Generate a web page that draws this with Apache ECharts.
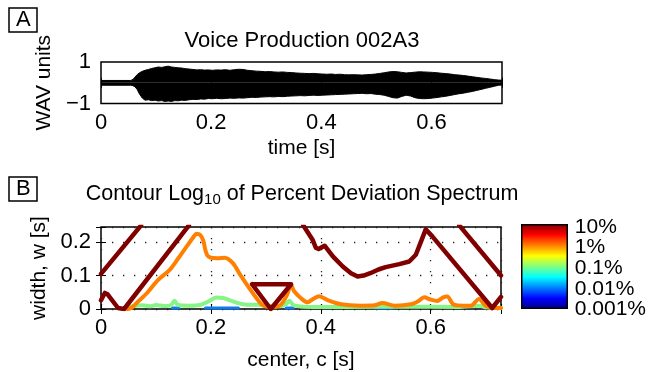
<!DOCTYPE html>
<html>
<head>
<meta charset="utf-8">
<script src="https://cdn.jsdelivr.net/npm/echarts@6/dist/echarts.min.js"></script>
<style>
  html, body { margin: 0; padding: 0; background: #fff; }
  #main { width: 649px; height: 372px; }
</style>
</head>
<body>
<div id="main"></div>
<script>
"use strict";

// --- panel A: waveform envelope (time [s], upper / lower WAV units)
const waveT = [0, 0.054, 0.058, 0.062, 0.066, 0.07, 0.075, 0.08, 0.086, 0.092, 0.098, 0.104, 0.11, 0.116, 0.122,
  0.128, 0.134, 0.14, 0.146, 0.153, 0.16, 0.167, 0.174, 0.181, 0.188, 0.195, 0.202, 0.21, 0.218, 0.226, 0.234,
  0.242, 0.25, 0.258, 0.266, 0.274, 0.282, 0.29, 0.298, 0.306, 0.314, 0.322, 0.33, 0.338, 0.346, 0.354, 0.362,
  0.37, 0.378, 0.386, 0.394, 0.402, 0.41, 0.418, 0.426, 0.434, 0.442, 0.45, 0.458, 0.466, 0.474, 0.482, 0.49,
  0.498, 0.506, 0.514, 0.522, 0.53, 0.538, 0.546, 0.554, 0.562, 0.57, 0.578, 0.586, 0.594, 0.602, 0.61, 0.618,
  0.626, 0.634, 0.642, 0.65, 0.658, 0.666, 0.674, 0.682, 0.69, 0.698, 0.706, 0.714, 0.722, 0.728];
const waveUpper = [0.11, 0.11, 0.16, 0.28, 0.4, 0.48, 0.55, 0.6, 0.64, 0.69, 0.72, 0.76, 0.74, 0.77, 0.8,
  0.76, 0.74, 0.72, 0.71, 0.68, 0.66, 0.64, 0.62, 0.63, 0.61, 0.62, 0.6, 0.62, 0.61, 0.63, 0.6,
  0.63, 0.65, 0.64, 0.6, 0.58, 0.56, 0.55, 0.53, 0.54, 0.52, 0.51, 0.52, 0.5, 0.49, 0.47, 0.46,
  0.45, 0.44, 0.45, 0.43, 0.42, 0.41, 0.42, 0.4, 0.41, 0.39, 0.38, 0.39, 0.38, 0.37, 0.39, 0.4,
  0.42, 0.45, 0.48, 0.52, 0.54, 0.53, 0.5, 0.47, 0.49, 0.51, 0.53, 0.52, 0.51, 0.5, 0.48, 0.46,
  0.44, 0.42, 0.39, 0.37, 0.35, 0.32, 0.29, 0.26, 0.23, 0.21, 0.18, 0.15, 0.13, 0.12];
const waveLower = [-0.12, -0.12, -0.14, -0.2, -0.34, -0.55, -0.74, -0.84, -0.82, -0.86, -0.84, -0.88, -0.86, -0.9, -0.88,
  -0.9, -0.86, -0.87, -0.84, -0.85, -0.82, -0.8, -0.81, -0.78, -0.79, -0.76, -0.77, -0.75, -0.77, -0.76, -0.74,
  -0.75, -0.73, -0.74, -0.72, -0.7, -0.71, -0.69, -0.68, -0.67, -0.68, -0.66, -0.67, -0.65, -0.64, -0.63, -0.62,
  -0.63, -0.61, -0.6, -0.61, -0.6, -0.59, -0.58, -0.57, -0.56, -0.55, -0.54, -0.53, -0.52, -0.51, -0.53, -0.52,
  -0.55, -0.57, -0.6, -0.66, -0.72, -0.74, -0.66, -0.6, -0.64, -0.72, -0.76, -0.77, -0.76, -0.74, -0.71, -0.68,
  -0.65, -0.61, -0.57, -0.53, -0.5, -0.46, -0.42, -0.37, -0.32, -0.27, -0.22, -0.17, -0.12, -0.11];

// --- panel B: contour lines, [center c, width w]
const red10a = [[0, 0.105], [0.073, 0.25]];
const red10b = [[0, 0.026], [0.007, 0.048], [0.012, 0.044], [0.031, 0.003], [0.042, 0.0], [0.16, 0.25]];
const red10tri = [[0.275, 0.074], [0.346, 0.074], [0.309, 0.0], [0.275, 0.074]];
const red10c = [[0.368, 0.25], [0.385, 0.207], [0.391, 0.183], [0.396, 0.179], [0.407, 0.189], [0.422, 0.157],
  [0.44, 0.127], [0.455, 0.107], [0.467, 0.097], [0.478, 0.1], [0.49, 0.107], [0.505, 0.118], [0.518, 0.125],
  [0.543, 0.134], [0.561, 0.142], [0.573, 0.162], [0.582, 0.2], [0.591, 0.238], [0.603, 0.217],
  [0.712, 0.003], [0.728, 0.036]];
const red10d = [[0.652, 0.25], [0.728, 0.1]];
const orange1 = [[0.048, 0.0], [0.055, 0.003], [0.068, 0.023], [0.085, 0.05], [0.104, 0.087], [0.125, 0.117],
  [0.14, 0.15], [0.156, 0.187], [0.167, 0.212], [0.174, 0.225], [0.18, 0.222], [0.186, 0.205], [0.192, 0.165],
  [0.2, 0.153], [0.212, 0.152], [0.225, 0.153], [0.24, 0.137], [0.255, 0.098], [0.29, 0.018], [0.303, 0.007],
  [0.318, 0.007], [0.328, 0.014], [0.338, 0.04], [0.346, 0.07], [0.352, 0.052], [0.364, 0.032], [0.376, 0.02],
  [0.386, 0.03], [0.397, 0.038], [0.413, 0.026], [0.437, 0.014], [0.473, 0.01], [0.498, 0.011], [0.512, 0.018],
  [0.535, 0.01], [0.564, 0.014], [0.578, 0.024], [0.588, 0.035], [0.6, 0.028], [0.612, 0.024], [0.622, 0.034],
  [0.63, 0.037], [0.642, 0.013], [0.66, 0.01], [0.673, 0.01], [0.688, 0.03], [0.7, 0.01], [0.715, 0.004],
  [0.728, 0.003]];
const green01 = [[0.045, 0.004], [0.06, 0.009], [0.075, 0.011], [0.09, 0.008], [0.1, 0.012], [0.115, 0.009],
  [0.127, 0.011], [0.134, 0.025], [0.14, 0.012], [0.16, 0.01], [0.18, 0.012], [0.195, 0.022], [0.21, 0.034],
  [0.222, 0.033], [0.235, 0.026], [0.249, 0.018], [0.265, 0.013], [0.285, 0.013], [0.3, 0.009], [0.325, 0.008],
  [0.337, 0.015], [0.343, 0.025], [0.35, 0.012], [0.37, 0.007], [0.45, 0.006], [0.55, 0.007], [0.65, 0.006],
  [0.689, 0.01], [0.7, 0.005], [0.728, 0.004]];
const blue001a = [[0.13, 0.003], [0.142, 0.003]];
const blue001b = [[0.19, 0.003], [0.25, 0.003]];
const blue001c = [[0.337, 0.003], [0.35, 0.003]];
const blue001d = [[0.5, 0.003], [0.53, 0.003]];

// colour bar tick labels (bottom to top)
const cbLabels = ['0.001%', '0.01%', '0.1%', '1%', '10%'];

const FONT = '"Liberation Sans", Arial, Helvetica, sans-serif';
const tMax = 0.728;
const wMax = 0.245;

function stepLabel(step) {
  return function (v) {
    const k = v / step;
    if (Math.abs(k - Math.round(k)) > 1e-6) return '';
    const r = +(Math.round(k) * step).toFixed(3);
    return r < 0 ? '\u2212' + Math.abs(r) : String(r);
  };
}

function axis(extra) {
  return Object.assign({
    type: 'value',
    axisLine: { show: false },
    axisTick: { show: true, inside: true, length: 5, lineStyle: { color: '#000', width: 1 } },
    axisLabel: { show: false },
    splitLine: { show: false },
  }, extra);
}

const tickLabel = { show: true, color: '#000', fontSize: 22, fontFamily: FONT, showMinLabel: true, hideOverlap: false };
const nameStyle = { color: '#000', fontSize: 21, fontFamily: FONT };
const dotted = { show: true, lineStyle: { color: '#222', width: 1.3, type: [1.3, 9.7] } };

function contour(data, color, width, smooth) {
  return {
    type: 'line', xAxisIndex: 2, yAxisIndex: 2, data: data,
    symbol: 'none', smooth: smooth, silent: true,
    lineStyle: { color: color, width: width, join: 'round', cap: 'round' },
  };
}

let myChart = echarts.init(document.getElementById('main'));

let option = {
  animation: false,
  textStyle: { fontFamily: FONT },
  title: [
    { text: 'A', left: 9, top: 8, padding: [1, 7], borderColor: '#000', borderWidth: 1.5,
      textStyle: { fontSize: 22, fontWeight: 'normal', color: '#000' } },
    { text: 'B', left: 9, top: 177, padding: [1, 7], borderColor: '#000', borderWidth: 1.5,
      textStyle: { fontSize: 22, fontWeight: 'normal', color: '#000' } },
    { text: 'Voice Production 002A3', left: 302, top: 30, padding: 0, textAlign: 'center',
      textStyle: { fontSize: 22, fontWeight: 'normal', color: '#000' } },
    { text: 'Contour Log{sub|10} of Percent Deviation Spectrum', left: 302, top: 181, padding: 0,
      textAlign: 'center',
      textStyle: { fontSize: 21.5, fontWeight: 'normal', color: '#000',
        rich: { sub: { fontSize: 15, verticalAlign: 'bottom', padding: [11, 0, 0, 0] } } } },
  ],
  grid: [
    { left: 101, top: 62, width: 401, height: 41.5, show: true, borderColor: '#000', borderWidth: 1.5 },
    { left: 101, top: 227, width: 400, height: 82, show: true, borderColor: '#000', borderWidth: 1.5 },
    { left: 521, top: 224, width: 47, height: 85, show: false },   // colour bar
    { left: 521, top: 227, width: 47, height: 82.5, show: false }, // colour bar labels
  ],
  xAxis: [
    axis({ gridIndex: 0, min: 0, max: tMax, interval: 0.2, position: 'bottom',
      axisLabel: Object.assign({ margin: 8, formatter: stepLabel(0.2) }, tickLabel),
      name: 'time [s]', nameLocation: 'middle', nameGap: 34, nameTextStyle: nameStyle }),
    axis({ gridIndex: 0, min: 0, max: tMax, interval: 0.2, position: 'top' }),
    axis({ gridIndex: 1, min: 0, max: tMax, interval: 0.2, position: 'bottom',
      axisLabel: Object.assign({ margin: 8, formatter: stepLabel(0.2) }, tickLabel),
      splitLine: dotted,
      name: 'center, c [s]', nameLocation: 'middle', nameGap: 41, nameTextStyle: nameStyle }),
    axis({ gridIndex: 1, min: 0, max: tMax, interval: 0.2, position: 'top' }),
    { gridIndex: 2, type: 'category', data: [''], show: false },
    { gridIndex: 3, type: 'value', min: 0, max: 1, show: false },
  ],
  yAxis: [
    axis({ gridIndex: 0, min: -1, max: 1, interval: 2, position: 'left',
      axisTick: { show: false },
      axisLabel: Object.assign({ margin: 10, formatter: stepLabel(1) }, tickLabel),
      name: 'WAV units', nameLocation: 'middle', nameGap: 41, nameTextStyle: nameStyle }),
    axis({ gridIndex: 0, min: -1, max: 1, interval: 2, position: 'right', axisTick: { show: false } }),
    axis({ gridIndex: 1, min: 0, max: wMax, interval: 0.1, position: 'left',
      axisLabel: Object.assign({ margin: 10, formatter: stepLabel(0.1) }, tickLabel),
      splitLine: dotted,
      name: 'width, w [s]', nameLocation: 'middle', nameGap: 43, nameTextStyle: nameStyle }),
    axis({ gridIndex: 1, min: 0, max: wMax, interval: 0.1, position: 'right' }),
    { gridIndex: 2, type: 'value', min: 0, max: 1, show: false },
    { gridIndex: 3, type: 'category', data: cbLabels, boundaryGap: false, position: 'right',
      axisLine: { show: false }, axisTick: { show: false }, splitLine: { show: false },
      axisLabel: { show: true, interval: 0, margin: 8, color: '#000', fontSize: 21, fontFamily: FONT,
        hideOverlap: false } },
  ],
  series: [
    { type: 'line', xAxisIndex: 0, yAxisIndex: 0, symbol: 'none', silent: true,
      data: waveT.map((t, i) => [t, waveUpper[i]]),
      lineStyle: { color: '#000', width: 1 }, areaStyle: { color: '#000', opacity: 1 } },
    { type: 'line', xAxisIndex: 0, yAxisIndex: 0, symbol: 'none', silent: true,
      data: waveT.map((t, i) => [t, waveLower[i]]),
      lineStyle: { color: '#000', width: 1 }, areaStyle: { color: '#000', opacity: 1 } },
    contour(blue001a, '#0a7cf0', 3, false),
    contour(blue001b, '#0a7cf0', 3, false),
    contour(blue001c, '#0a7cf0', 3, false),
    contour(blue001d, '#0a7cf0', 3, false),
    contour(green01, '#86f486', 4, 0.3),
    contour(orange1, '#ff8000', 4, 0.3),
    contour(red10a, '#800000', 4.5, false),
    contour(red10b, '#800000', 4.5, false),
    contour(red10tri, '#800000', 4.5, false),
    contour(red10c, '#800000', 4.5, false),
    contour(red10d, '#800000', 4.5, false),
    { type: 'bar', xAxisIndex: 4, yAxisIndex: 4, data: [1], barWidth: '100%', silent: true,
      itemStyle: {
        borderColor: '#000', borderWidth: 1.5,
        color: new echarts.graphic.LinearGradient(0, 0, 0, 1, [
          { offset: 0, color: '#800000' },
          { offset: 0.125, color: '#ff0000' },
          { offset: 0.25, color: '#ff8000' },
          { offset: 0.375, color: '#ffff00' },
          { offset: 0.5, color: '#80ff80' },
          { offset: 0.625, color: '#00ffff' },
          { offset: 0.75, color: '#0080ff' },
          { offset: 0.875, color: '#0000ff' },
          { offset: 1, color: '#000080' },
        ]),
      } },
  ],
};

myChart.setOption(option);
</script>
</body>
</html>
